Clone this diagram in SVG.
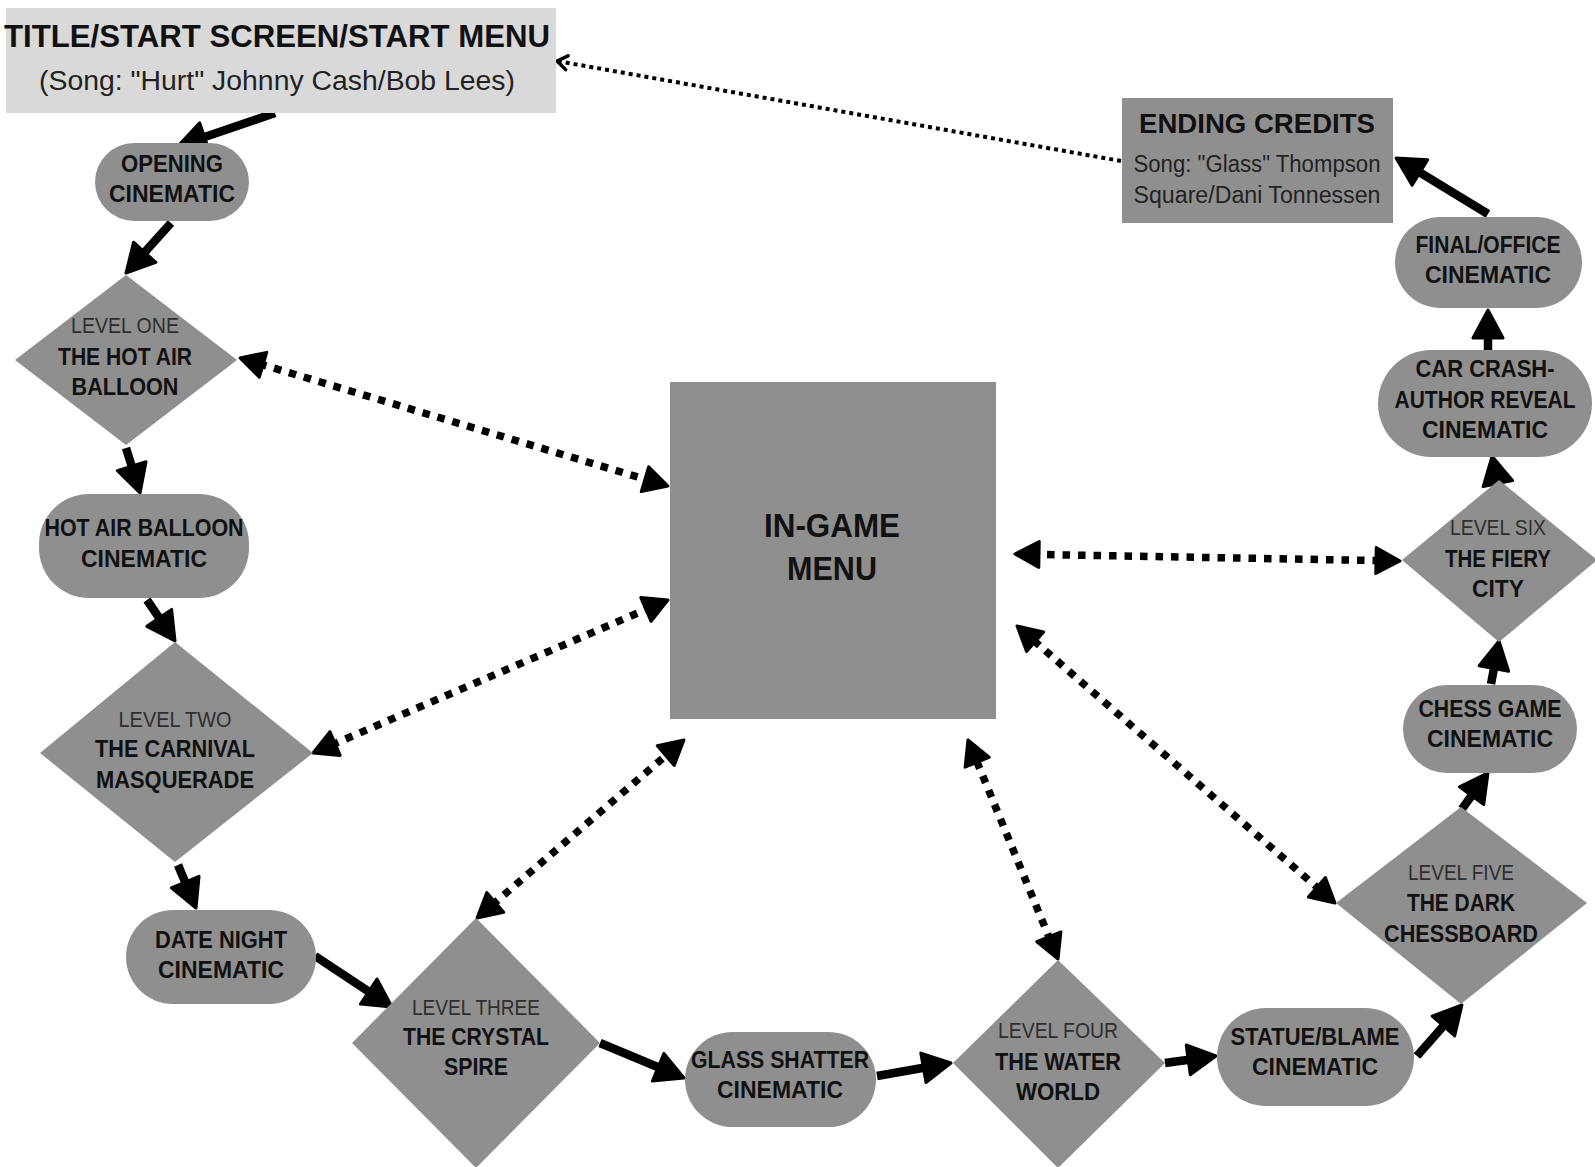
<svg xmlns="http://www.w3.org/2000/svg" width="1595" height="1167" viewBox="0 0 1595 1167">
<style>
.node{fill:#8f8f8f}
.light{fill:#d9d9d9}
text{font-family:"Liberation Sans",Arial,sans-serif;text-anchor:middle}
.b{font-weight:700;fill:#111;font-size:23px}
.r{font-weight:400;fill:#2e2e2e;font-size:22px}
.solid{stroke:#000;stroke-width:8.5;fill:none;marker-end:url(#sa)}
.dot{stroke:#000;stroke-width:7.5;stroke-dasharray:7.5 8;fill:none;marker-start:url(#da);marker-end:url(#da)}
.thin{stroke:#000;stroke-width:4;stroke-dasharray:4 4;fill:none;marker-end:url(#ch)}
</style>
<defs>
<marker id="sa" markerUnits="userSpaceOnUse" viewBox="-2 -2 32 34" markerWidth="32" markerHeight="34" refX="6" refY="15" orient="auto"><path d="M0,0 L28,15 L0,30 Z" fill="#000" stroke="#000" stroke-width="3" stroke-linejoin="round"/></marker>
<marker id="da" markerUnits="userSpaceOnUse" viewBox="-2 -2 28 30" markerWidth="28" markerHeight="30" refX="4" refY="13" orient="auto-start-reverse"><path d="M0,0 L24,13 L0,26 Z" fill="#000" stroke="#000" stroke-width="3" stroke-linejoin="round"/></marker>
<marker id="ch" markerUnits="userSpaceOnUse" viewBox="0 0 14 18" markerWidth="14" markerHeight="18" refX="12" refY="9" orient="auto"><path d="M2,2 L12,9 L2,16" fill="none" stroke="#000" stroke-width="3.5" stroke-linecap="round" stroke-linejoin="round"/></marker>
</defs>
<rect width="1595" height="1167" fill="#fff"/>

<g id="connectors">
<path class="solid" d="M275,113 L198.8,138.9"/>
<path class="solid" d="M171,223 L140.7,256.7"/>
<path class="solid" d="M126,448 L133.5,472"/>
<path class="solid" d="M147,600 L162.6,622.8"/>
<path class="solid" d="M178,865 L187.5,887.7"/>
<path class="solid" d="M315,956 L373.7,994.9"/>
<path class="solid" d="M600,1043 L663.7,1069.5"/>
<path class="solid" d="M877,1076 L929.3,1066.8"/>
<path class="solid" d="M1165,1063 L1194.2,1059"/>
<path class="solid" d="M1417,1056 L1447.4,1021.5"/>
<path class="solid" d="M1462,809 L1475.1,790.8"/>
<path class="solid" d="M1491,684 L1495,662.6"/>
<path class="solid" d="M1497.5,482 L1496.6,477.7"/>
<path class="solid" d="M1488,351 L1488,332"/>
<path class="solid" d="M1488,214 L1414.8,169.4"/>
<path class="dot" d="M259.2,363.7 L648.8,480.3"/>
<path class="dot" d="M331.4,745.1 L649.6,607.9"/>
<path class="dot" d="M492.2,905 L668.8,753"/>
<path class="dot" d="M1050.4,940.5 L975.6,758.5"/>
<path class="dot" d="M1319.9,889.9 L1032.1,639.1"/>
<path class="dot" d="M1380,560.6 L1035,554.4"/>
<path class="thin" d="M1121,161 L557,61"/>
</g>

<g id="title">
<rect class="light" x="6" y="8" width="550" height="105"/>
<text class="b" x="277" y="47" style="font-size:32px" textLength="546" lengthAdjust="spacingAndGlyphs">TITLE/START SCREEN/START MENU</text>
<text class="r" x="277" y="90" style="font-size:27px;fill:#222" textLength="476" lengthAdjust="spacingAndGlyphs">(Song: "Hurt" Johnny Cash/Bob Lees)</text>
</g>

<g id="opening">
<rect class="node" x="95" y="143" width="154" height="78" rx="39"/>
<text class="b" x="172" y="172" textLength="102" lengthAdjust="spacingAndGlyphs">OPENING</text>
<text class="b" x="172" y="202" textLength="126" lengthAdjust="spacingAndGlyphs">CINEMATIC</text>
</g>

<g id="level1">
<polygon class="node" points="126,275 237,360 126,445 15,360"/>
<text class="r" x="125" y="333" textLength="108" lengthAdjust="spacingAndGlyphs">LEVEL ONE</text>
<text class="b" x="125" y="365" textLength="134" lengthAdjust="spacingAndGlyphs">THE HOT AIR</text>
<text class="b" x="125" y="395" textLength="107" lengthAdjust="spacingAndGlyphs">BALLOON</text>
</g>

<g id="hotair">
<rect class="node" x="39" y="494" width="210" height="104" rx="50"/>
<text class="b" x="144" y="536" textLength="199" lengthAdjust="spacingAndGlyphs">HOT AIR BALLOON</text>
<text class="b" x="144" y="567" textLength="126" lengthAdjust="spacingAndGlyphs">CINEMATIC</text>
</g>

<g id="level2">
<polygon class="node" points="175,642 313,753 175,862 40,753"/>
<text class="r" x="175" y="727" textLength="113" lengthAdjust="spacingAndGlyphs">LEVEL TWO</text>
<text class="b" x="175" y="757" textLength="160" lengthAdjust="spacingAndGlyphs">THE CARNIVAL</text>
<text class="b" x="175" y="788" textLength="158" lengthAdjust="spacingAndGlyphs">MASQUERADE</text>
</g>

<g id="datenight">
<rect class="node" x="126" y="910" width="190" height="94" rx="47"/>
<text class="b" x="221" y="948" textLength="132" lengthAdjust="spacingAndGlyphs">DATE NIGHT</text>
<text class="b" x="221" y="978" textLength="126" lengthAdjust="spacingAndGlyphs">CINEMATIC</text>
</g>

<g id="level3">
<polygon class="node" points="476,918 600,1043 476,1168 352,1043"/>
<text class="r" x="476" y="1015" textLength="128" lengthAdjust="spacingAndGlyphs">LEVEL THREE</text>
<text class="b" x="476" y="1045" textLength="146" lengthAdjust="spacingAndGlyphs">THE CRYSTAL</text>
<text class="b" x="476" y="1075" textLength="64" lengthAdjust="spacingAndGlyphs">SPIRE</text>
</g>

<g id="glass">
<rect class="node" x="685" y="1032" width="191" height="95" rx="47.5"/>
<text class="b" x="780" y="1068" textLength="178" lengthAdjust="spacingAndGlyphs">GLASS SHATTER</text>
<text class="b" x="780" y="1098" textLength="126" lengthAdjust="spacingAndGlyphs">CINEMATIC</text>
</g>

<g id="level4">
<polygon class="node" points="1058,960 1165,1063 1058,1168 953,1063"/>
<text class="r" x="1058" y="1038" textLength="120" lengthAdjust="spacingAndGlyphs">LEVEL FOUR</text>
<text class="b" x="1058" y="1070" textLength="126" lengthAdjust="spacingAndGlyphs">THE WATER</text>
<text class="b" x="1058" y="1100" textLength="84" lengthAdjust="spacingAndGlyphs">WORLD</text>
</g>

<g id="statue">
<rect class="node" x="1217" y="1008" width="197" height="98" rx="49"/>
<text class="b" x="1315" y="1045" textLength="169" lengthAdjust="spacingAndGlyphs">STATUE/BLAME</text>
<text class="b" x="1315" y="1075" textLength="126" lengthAdjust="spacingAndGlyphs">CINEMATIC</text>
</g>

<g id="level5">
<polygon class="node" points="1461,807 1587,903 1461,1004 1336,903"/>
<text class="r" x="1461" y="880" textLength="106" lengthAdjust="spacingAndGlyphs">LEVEL FIVE</text>
<text class="b" x="1461" y="911" textLength="108" lengthAdjust="spacingAndGlyphs">THE DARK</text>
<text class="b" x="1461" y="942" textLength="154" lengthAdjust="spacingAndGlyphs">CHESSBOARD</text>
</g>

<g id="chess">
<rect class="node" x="1403" y="685" width="174" height="88" rx="44"/>
<text class="b" x="1490" y="717" textLength="143" lengthAdjust="spacingAndGlyphs">CHESS GAME</text>
<text class="b" x="1490" y="747" textLength="126" lengthAdjust="spacingAndGlyphs">CINEMATIC</text>
</g>

<g id="level6">
<polygon class="node" points="1499,480 1597,560 1499,642 1402,560"/>
<text class="r" x="1498" y="535" textLength="96" lengthAdjust="spacingAndGlyphs">LEVEL SIX</text>
<text class="b" x="1498" y="567" textLength="106" lengthAdjust="spacingAndGlyphs">THE FIERY</text>
<text class="b" x="1498" y="597" textLength="52" lengthAdjust="spacingAndGlyphs">CITY</text>
</g>

<g id="carcrash">
<rect class="node" x="1378" y="350" width="214" height="107" rx="53.5"/>
<text class="b" x="1485" y="377" textLength="139" lengthAdjust="spacingAndGlyphs">CAR CRASH-</text>
<text class="b" x="1485" y="408" textLength="181" lengthAdjust="spacingAndGlyphs">AUTHOR REVEAL</text>
<text class="b" x="1485" y="438" textLength="126" lengthAdjust="spacingAndGlyphs">CINEMATIC</text>
</g>

<g id="final">
<rect class="node" x="1395" y="217" width="187" height="91" rx="45.5"/>
<text class="b" x="1488" y="253" textLength="145" lengthAdjust="spacingAndGlyphs">FINAL/OFFICE</text>
<text class="b" x="1488" y="283" textLength="126" lengthAdjust="spacingAndGlyphs">CINEMATIC</text>
</g>

<g id="credits">
<rect class="node" x="1122" y="98" width="271" height="125"/>
<text class="b" x="1257" y="133" style="font-size:28px" textLength="236" lengthAdjust="spacingAndGlyphs">ENDING CREDITS</text>
<text class="r" x="1257" y="172" style="font-size:23px;fill:#222" textLength="247" lengthAdjust="spacingAndGlyphs">Song: "Glass" Thompson</text>
<text class="r" x="1257" y="203" style="font-size:23px;fill:#222" textLength="247" lengthAdjust="spacingAndGlyphs">Square/Dani Tonnessen</text>
</g>

<g id="menu">
<rect class="node" x="670" y="382" width="326" height="337"/>
<text class="b" x="832" y="537" style="font-size:33px" textLength="136" lengthAdjust="spacingAndGlyphs">IN-GAME</text>
<text class="b" x="832" y="580" style="font-size:33px" textLength="90" lengthAdjust="spacingAndGlyphs">MENU</text>
</g>
</svg>
